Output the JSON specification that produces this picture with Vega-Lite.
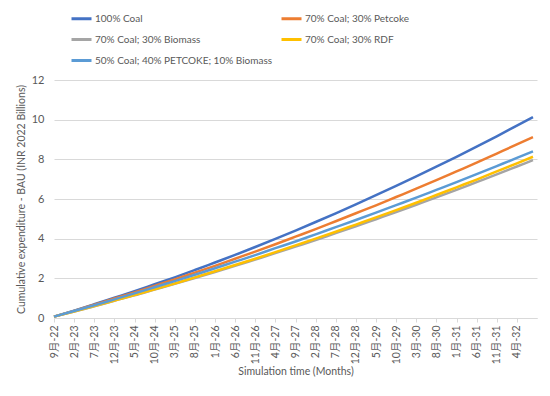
{
  "$schema": "https://vega.github.io/schema/vega-lite/v6.json",
  "width": 483,
  "height": 238,
  "autosize": "none",
  "padding": {"left": 54, "top": 80, "right": 13, "bottom": 78},
  "background": "white",
  "config": {
    "view": {"stroke": null},
    "font": "Lato",
    "axis": {"labelColor": "#595959", "titleColor": "#595959", "labelFont": "Lato, Noto Sans CJK SC", "titleFont": "Lato", "titleFontWeight": "normal", "labelFontSize": 11, "titleFontSize": 10.5}
  },
  "data": {"values": [
    {"series": "100% Coal", "month": 0, "value": 0.07}, {"series": "100% Coal", "month": 5, "value": 0.37}, {"series": "100% Coal", "month": 10, "value": 0.69}, {"series": "100% Coal", "month": 15, "value": 1.02}, {"series": "100% Coal", "month": 20, "value": 1.35}, {"series": "100% Coal", "month": 25, "value": 1.70}, {"series": "100% Coal", "month": 30, "value": 2.05}, {"series": "100% Coal", "month": 35, "value": 2.42}, {"series": "100% Coal", "month": 40, "value": 2.80}, {"series": "100% Coal", "month": 45, "value": 3.18}, {"series": "100% Coal", "month": 50, "value": 3.58}, {"series": "100% Coal", "month": 55, "value": 3.99}, {"series": "100% Coal", "month": 60, "value": 4.41}, {"series": "100% Coal", "month": 65, "value": 4.84}, {"series": "100% Coal", "month": 70, "value": 5.28}, {"series": "100% Coal", "month": 75, "value": 5.73}, {"series": "100% Coal", "month": 80, "value": 6.19}, {"series": "100% Coal", "month": 85, "value": 6.66}, {"series": "100% Coal", "month": 90, "value": 7.14}, {"series": "100% Coal", "month": 95, "value": 7.63}, {"series": "100% Coal", "month": 100, "value": 8.13}, {"series": "100% Coal", "month": 105, "value": 8.64}, {"series": "100% Coal", "month": 110, "value": 9.16}, {"series": "100% Coal", "month": 115, "value": 9.70}, {"series": "100% Coal", "month": 119, "value": 10.13},
    {"series": "70% Coal; 30% Petcoke", "month": 0, "value": 0.07}, {"series": "70% Coal; 30% Petcoke", "month": 5, "value": 0.36}, {"series": "70% Coal; 30% Petcoke", "month": 10, "value": 0.67}, {"series": "70% Coal; 30% Petcoke", "month": 15, "value": 0.98}, {"series": "70% Coal; 30% Petcoke", "month": 20, "value": 1.29}, {"series": "70% Coal; 30% Petcoke", "month": 25, "value": 1.62}, {"series": "70% Coal; 30% Petcoke", "month": 30, "value": 1.95}, {"series": "70% Coal; 30% Petcoke", "month": 35, "value": 2.29}, {"series": "70% Coal; 30% Petcoke", "month": 40, "value": 2.63}, {"series": "70% Coal; 30% Petcoke", "month": 45, "value": 2.99}, {"series": "70% Coal; 30% Petcoke", "month": 50, "value": 3.35}, {"series": "70% Coal; 30% Petcoke", "month": 55, "value": 3.72}, {"series": "70% Coal; 30% Petcoke", "month": 60, "value": 4.10}, {"series": "70% Coal; 30% Petcoke", "month": 65, "value": 4.48}, {"series": "70% Coal; 30% Petcoke", "month": 70, "value": 4.88}, {"series": "70% Coal; 30% Petcoke", "month": 75, "value": 5.28}, {"series": "70% Coal; 30% Petcoke", "month": 80, "value": 5.68}, {"series": "70% Coal; 30% Petcoke", "month": 85, "value": 6.10}, {"series": "70% Coal; 30% Petcoke", "month": 90, "value": 6.52}, {"series": "70% Coal; 30% Petcoke", "month": 95, "value": 6.95}, {"series": "70% Coal; 30% Petcoke", "month": 100, "value": 7.39}, {"series": "70% Coal; 30% Petcoke", "month": 105, "value": 7.83}, {"series": "70% Coal; 30% Petcoke", "month": 110, "value": 8.29}, {"series": "70% Coal; 30% Petcoke", "month": 115, "value": 8.75}, {"series": "70% Coal; 30% Petcoke", "month": 119, "value": 9.12},
    {"series": "70% Coal; 30% Biomass", "month": 0, "value": 0.07}, {"series": "70% Coal; 30% Biomass", "month": 5, "value": 0.33}, {"series": "70% Coal; 30% Biomass", "month": 10, "value": 0.59}, {"series": "70% Coal; 30% Biomass", "month": 15, "value": 0.87}, {"series": "70% Coal; 30% Biomass", "month": 20, "value": 1.14}, {"series": "70% Coal; 30% Biomass", "month": 25, "value": 1.43}, {"series": "70% Coal; 30% Biomass", "month": 30, "value": 1.72}, {"series": "70% Coal; 30% Biomass", "month": 35, "value": 2.02}, {"series": "70% Coal; 30% Biomass", "month": 40, "value": 2.32}, {"series": "70% Coal; 30% Biomass", "month": 45, "value": 2.63}, {"series": "70% Coal; 30% Biomass", "month": 50, "value": 2.95}, {"series": "70% Coal; 30% Biomass", "month": 55, "value": 3.27}, {"series": "70% Coal; 30% Biomass", "month": 60, "value": 3.60}, {"series": "70% Coal; 30% Biomass", "month": 65, "value": 3.93}, {"series": "70% Coal; 30% Biomass", "month": 70, "value": 4.28}, {"series": "70% Coal; 30% Biomass", "month": 75, "value": 4.62}, {"series": "70% Coal; 30% Biomass", "month": 80, "value": 4.98}, {"series": "70% Coal; 30% Biomass", "month": 85, "value": 5.34}, {"series": "70% Coal; 30% Biomass", "month": 90, "value": 5.71}, {"series": "70% Coal; 30% Biomass", "month": 95, "value": 6.08}, {"series": "70% Coal; 30% Biomass", "month": 100, "value": 6.46}, {"series": "70% Coal; 30% Biomass", "month": 105, "value": 6.85}, {"series": "70% Coal; 30% Biomass", "month": 110, "value": 7.24}, {"series": "70% Coal; 30% Biomass", "month": 115, "value": 7.64}, {"series": "70% Coal; 30% Biomass", "month": 119, "value": 7.96},
    {"series": "70% Coal; 30% RDF", "month": 0, "value": 0.07}, {"series": "70% Coal; 30% RDF", "month": 5, "value": 0.33}, {"series": "70% Coal; 30% RDF", "month": 10, "value": 0.60}, {"series": "70% Coal; 30% RDF", "month": 15, "value": 0.88}, {"series": "70% Coal; 30% RDF", "month": 20, "value": 1.16}, {"series": "70% Coal; 30% RDF", "month": 25, "value": 1.45}, {"series": "70% Coal; 30% RDF", "month": 30, "value": 1.74}, {"series": "70% Coal; 30% RDF", "month": 35, "value": 2.05}, {"series": "70% Coal; 30% RDF", "month": 40, "value": 2.36}, {"series": "70% Coal; 30% RDF", "month": 45, "value": 2.67}, {"series": "70% Coal; 30% RDF", "month": 50, "value": 2.99}, {"series": "70% Coal; 30% RDF", "month": 55, "value": 3.32}, {"series": "70% Coal; 30% RDF", "month": 60, "value": 3.66}, {"series": "70% Coal; 30% RDF", "month": 65, "value": 4.00}, {"series": "70% Coal; 30% RDF", "month": 70, "value": 4.35}, {"series": "70% Coal; 30% RDF", "month": 75, "value": 4.71}, {"series": "70% Coal; 30% RDF", "month": 80, "value": 5.07}, {"series": "70% Coal; 30% RDF", "month": 85, "value": 5.44}, {"series": "70% Coal; 30% RDF", "month": 90, "value": 5.81}, {"series": "70% Coal; 30% RDF", "month": 95, "value": 6.20}, {"series": "70% Coal; 30% RDF", "month": 100, "value": 6.59}, {"series": "70% Coal; 30% RDF", "month": 105, "value": 6.98}, {"series": "70% Coal; 30% RDF", "month": 110, "value": 7.39}, {"series": "70% Coal; 30% RDF", "month": 115, "value": 7.80}, {"series": "70% Coal; 30% RDF", "month": 119, "value": 8.13},
    {"series": "50% Coal; 40% PETCOKE; 10% Biomass", "month": 0, "value": 0.07}, {"series": "50% Coal; 40% PETCOKE; 10% Biomass", "month": 5, "value": 0.35}, {"series": "50% Coal; 40% PETCOKE; 10% Biomass", "month": 10, "value": 0.64}, {"series": "50% Coal; 40% PETCOKE; 10% Biomass", "month": 15, "value": 0.94}, {"series": "50% Coal; 40% PETCOKE; 10% Biomass", "month": 20, "value": 1.24}, {"series": "50% Coal; 40% PETCOKE; 10% Biomass", "month": 25, "value": 1.55}, {"series": "50% Coal; 40% PETCOKE; 10% Biomass", "month": 30, "value": 1.86}, {"series": "50% Coal; 40% PETCOKE; 10% Biomass", "month": 35, "value": 2.18}, {"series": "50% Coal; 40% PETCOKE; 10% Biomass", "month": 40, "value": 2.51}, {"series": "50% Coal; 40% PETCOKE; 10% Biomass", "month": 45, "value": 2.84}, {"series": "50% Coal; 40% PETCOKE; 10% Biomass", "month": 50, "value": 3.17}, {"series": "50% Coal; 40% PETCOKE; 10% Biomass", "month": 55, "value": 3.52}, {"series": "50% Coal; 40% PETCOKE; 10% Biomass", "month": 60, "value": 3.86}, {"series": "50% Coal; 40% PETCOKE; 10% Biomass", "month": 65, "value": 4.22}, {"series": "50% Coal; 40% PETCOKE; 10% Biomass", "month": 70, "value": 4.58}, {"series": "50% Coal; 40% PETCOKE; 10% Biomass", "month": 75, "value": 4.94}, {"series": "50% Coal; 40% PETCOKE; 10% Biomass", "month": 80, "value": 5.31}, {"series": "50% Coal; 40% PETCOKE; 10% Biomass", "month": 85, "value": 5.69}, {"series": "50% Coal; 40% PETCOKE; 10% Biomass", "month": 90, "value": 6.07}, {"series": "50% Coal; 40% PETCOKE; 10% Biomass", "month": 95, "value": 6.46}, {"series": "50% Coal; 40% PETCOKE; 10% Biomass", "month": 100, "value": 6.85}, {"series": "50% Coal; 40% PETCOKE; 10% Biomass", "month": 105, "value": 7.25}, {"series": "50% Coal; 40% PETCOKE; 10% Biomass", "month": 110, "value": 7.66}, {"series": "50% Coal; 40% PETCOKE; 10% Biomass", "month": 115, "value": 8.07}, {"series": "50% Coal; 40% PETCOKE; 10% Biomass", "month": 119, "value": 8.40}
  ]},
  "mark": {"type": "line", "strokeWidth": 2.5, "interpolate": "monotone"},
  "encoding": {
    "x": {
      "field": "month", "type": "quantitative",
      "scale": {"domain": [0, 120], "nice": false, "zero": false},
      "axis": {
        "title": "Simulation time (Months)",
        "values": [0, 5, 10, 15, 20, 25, 30, 35, 40, 45, 50, 55, 60, 65, 70, 75, 80, 85, 90, 95, 100, 105, 110, 115],
        "labelExpr": "((datum.value + 8) % 12 + 1) + '月-' + (22 + floor((datum.value + 8) / 12))",
        "labelAngle": -90, "labelFontSize": 10.5, "labelOverlap": false, "labelFlush": false, "labelPadding": 3,
        "grid": false, "domainColor": "#D9D9D9", "tickColor": "#D9D9D9", "tickSize": 4, "titlePadding": 3
      }
    },
    "y": {
      "field": "value", "type": "quantitative",
      "scale": {"domain": [0, 12], "nice": false},
      "axis": {
        "title": "Cumulative expenditure - BAU (INR 2022 Billions)",
        "values": [0, 2, 4, 6, 8, 10, 12],
        "grid": true, "gridColor": "#D9D9D9", "domain": false, "ticks": false, "labelPadding": 10, "titlePadding": 5
      }
    },
    "color": {
      "field": "series", "type": "nominal",
      "scale": {
        "domain": ["100% Coal", "70% Coal; 30% Petcoke", "70% Coal; 30% Biomass", "70% Coal; 30% RDF", "50% Coal; 40% PETCOKE; 10% Biomass"],
        "range": ["#4472C4", "#ED7D31", "#A5A5A5", "#FFC000", "#5B9BD5"]
      },
      "legend": {
        "title": null, "orient": "none", "legendX": 16, "legendY": -73, "columns": 2, "direction": "horizontal",
        "symbolType": "stroke", "symbolSize": 400, "symbolStrokeWidth": 3, "labelFont": "Lato", "labelFontSize": 10, "labelColor": "#595959",
        "columnPadding": 2, "rowPadding": 3, "labelOffset": 2, "labelLimit": 300
      }
    }
  }
}
